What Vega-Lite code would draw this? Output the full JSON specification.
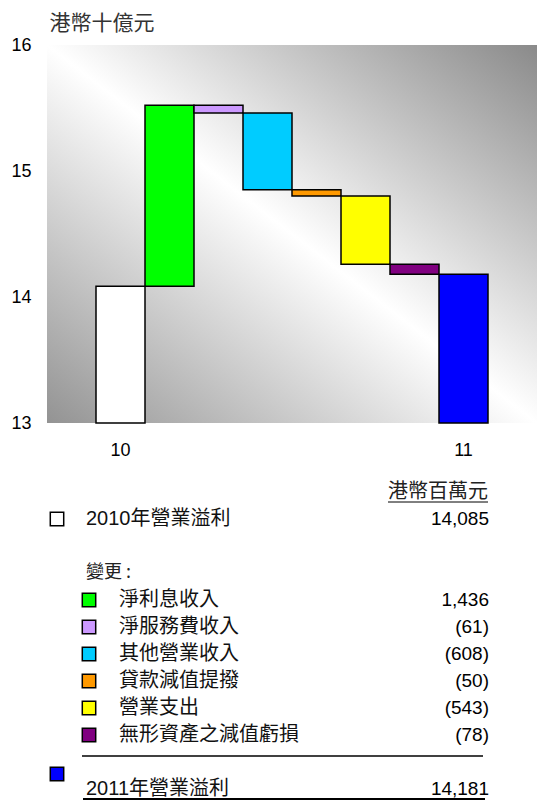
{
  "$schema": "https://vega.github.io/schema/vega-lite/v6.json",
  "width": 490,
  "height": 378,
  "autosize": {"type": "none"},
  "padding": {"left": 47, "top": 45, "right": 1, "bottom": 378},
  "background": "white",
  "datasets": {
    "items": [
      {"key": "y2010", "label": "2010年營業溢利", "value": 14085, "start": 0, "end": 14.085, "level": 0},
      {"key": "c1", "label": "淨利息收入", "value": 1436, "start": 14.085, "end": 15.521, "level": 1},
      {"key": "c2", "label": "淨服務費收入", "value": -61, "start": 15.521, "end": 15.46, "level": 1},
      {"key": "c3", "label": "其他營業收入", "value": -608, "start": 15.46, "end": 14.852, "level": 1},
      {"key": "c4", "label": "貸款減值提撥", "value": -50, "start": 14.852, "end": 14.802, "level": 1},
      {"key": "c5", "label": "營業支出", "value": -543, "start": 14.802, "end": 14.259, "level": 1},
      {"key": "c6", "label": "無形資產之減值虧損", "value": -78, "start": 14.259, "end": 14.181, "level": 1},
      {"key": "y2011", "label": "2011年營業溢利", "value": 14181, "start": 0, "end": 14.181, "level": 0}
    ],
    "notes": [
      {"key": "hdr", "text": "港幣百萬元", "level": 1},
      {"key": "chg", "text": "變更 :", "level": 0}
    ]
  },
  "layer": [
    {
      "data": {"name": "items"},
      "mark": {"type": "bar", "stroke": "#000000", "strokeWidth": 1.5},
      "encoding": {
        "x": {
          "field": "key", "type": "nominal", "sort": null,
          "scale": {"paddingInner": 0, "paddingOuter": 1},
          "axis": {
            "title": null, "ticks": false, "domain": false, "labelAngle": 0,
            "labelFontSize": 18, "labelPadding": 18, "labelColor": "#000000",
            "labelFont": "Liberation Sans, Arial, sans-serif",
            "labelExpr": "datum.value == 'y2010' ? '10' : datum.value == 'y2011' ? '11' : ''"
          }
        },
        "y": {
          "field": "end", "type": "quantitative",
          "scale": {"domain": [13, 16], "clamp": true, "nice": false, "zero": false},
          "axis": {
            "values": [13, 14, 15, 16], "format": "d", "grid": false, "ticks": false, "domain": false,
            "labelFontSize": 18, "labelPadding": 16, "labelColor": "#000000",
            "labelFont": "Liberation Sans, Arial, sans-serif",
            "title": "港幣十億元", "titleAngle": 0, "titleX": 2, "titleY": -22,
            "titleAlign": "left", "titleBaseline": "middle", "titleFontSize": 21,
            "titleFontWeight": "normal", "titleColor": "#333333",
            "titleFont": "Noto Sans CJK TC, sans-serif"
          }
        },
        "y2": {"field": "start"},
        "fill": {
          "field": "key", "type": "nominal", "legend": null,
          "scale": {
            "domain": ["y2010", "c1", "c2", "c3", "c4", "c5", "c6", "y2011"],
            "range": ["#ffffff", "#00ff00", "#cc99ff", "#00ccff", "#ff9900", "#ffff00", "#800080", "#0000ff"]
          }
        }
      }
    },
    {
      "data": {"name": "items"},
      "transform": [{"filter": "datum.key != 'y2011'"}],
      "mark": {"type": "point", "shape": "square", "size": 180, "filled": true, "stroke": "#000000", "strokeWidth": 1.5, "opacity": 1},
      "encoding": {
        "x": {"field": "level", "type": "quantitative", "scale": {"domain": [0, 1], "range": [10, 42]}, "axis": null},
        "y": {"field": "key", "type": "nominal", "axis": null, "scale": {"type": "point", "padding": 0, "domain": ["hdr", "y2010", "gap1", "chg", "c1", "c2", "c3", "c4", "c5", "c6", "gap2", "y2011"], "range": [447, 744]}},
        "fill": {"field": "key", "type": "nominal", "legend": null}
      }
    },
    {
      "data": {"name": "items"},
      "transform": [{"filter": "datum.key == 'y2011'"}],
      "mark": {"type": "point", "shape": "square", "size": 180, "filled": true, "stroke": "#000000", "strokeWidth": 1.5, "opacity": 1, "yOffset": -15},
      "encoding": {
        "x": {"field": "level", "type": "quantitative", "scale": {"domain": [0, 1], "range": [10, 42]}, "axis": null},
        "y": {"field": "key", "type": "nominal", "axis": null, "scale": {"type": "point", "padding": 0, "domain": ["hdr", "y2010", "gap1", "chg", "c1", "c2", "c3", "c4", "c5", "c6", "gap2", "y2011"], "range": [447, 744]}},
        "fill": {"field": "key", "type": "nominal", "legend": null}
      }
    },
    {
      "data": {"name": "items"},
      "mark": {"type": "text", "align": "left", "baseline": "middle", "fontSize": 20, "font": "Liberation Sans, Noto Sans CJK TC, sans-serif", "color": "#111111"},
      "encoding": {
        "x": {"field": "level", "type": "quantitative", "scale": {"domain": [0, 1], "range": [39, 72]}, "axis": null},
        "y": {"field": "key", "type": "nominal", "axis": null, "scale": {"type": "point", "padding": 0, "domain": ["hdr", "y2010", "gap1", "chg", "c1", "c2", "c3", "c4", "c5", "c6", "gap2", "y2011"], "range": [447, 744]}},
        "text": {"field": "label"}
      }
    },
    {
      "data": {"name": "items"},
      "transform": [{"calculate": "datum.value < 0 ? '(' + format(-datum.value, ',') + ')' : format(datum.value, ',') + ' '", "as": "disp"}],
      "mark": {"type": "text", "align": "right", "baseline": "middle", "fontSize": 19, "font": "Liberation Sans, Arial, sans-serif", "color": "#000000"},
      "encoding": {
        "x": {"field": "level", "type": "quantitative", "scale": {"domain": [0, 1], "range": [442, 442]}, "axis": null},
        "y": {"field": "key", "type": "nominal", "axis": null, "scale": {"type": "point", "padding": 0, "domain": ["hdr", "y2010", "gap1", "chg", "c1", "c2", "c3", "c4", "c5", "c6", "gap2", "y2011"], "range": [447, 744]}},
        "text": {"field": "disp"}
      }
    },
    {
      "data": {"name": "notes"},
      "transform": [{"filter": "datum.key == 'chg'"}],
      "mark": {"type": "text", "align": "left", "baseline": "middle", "fontSize": 18, "font": "Noto Sans CJK TC, sans-serif", "color": "#222222"},
      "encoding": {
        "x": {"field": "level", "type": "quantitative", "scale": {"domain": [0, 1], "range": [39, 72]}, "axis": null},
        "y": {"field": "key", "type": "nominal", "axis": null, "scale": {"type": "point", "padding": 0, "domain": ["hdr", "y2010", "gap1", "chg", "c1", "c2", "c3", "c4", "c5", "c6", "gap2", "y2011"], "range": [447, 744]}},
        "text": {"field": "text"}
      }
    },
    {
      "data": {"name": "notes"},
      "transform": [{"filter": "datum.key == 'hdr'"}],
      "mark": {"type": "text", "align": "right", "baseline": "middle", "fontSize": 20, "font": "Noto Sans CJK TC, sans-serif", "color": "#222222"},
      "encoding": {
        "x": {"field": "level", "type": "quantitative", "scale": {"domain": [0, 1], "range": [441, 441]}, "axis": null},
        "y": {"field": "key", "type": "nominal", "axis": null, "scale": {"type": "point", "padding": 0, "domain": ["hdr", "y2010", "gap1", "chg", "c1", "c2", "c3", "c4", "c5", "c6", "gap2", "y2011"], "range": [447, 744]}},
        "text": {"field": "text"}
      }
    },
    {
      "data": {"name": "notes"},
      "transform": [{"filter": "datum.key == 'hdr'"}],
      "mark": {"type": "rule", "color": "#000000", "strokeWidth": 1, "yOffset": 10},
      "encoding": {
        "x": {"datum": 0, "type": "quantitative", "scale": {"domain": [0, 1], "range": [341, 441]}, "axis": null},
        "x2": {"datum": 1},
        "y": {"field": "key", "type": "nominal", "axis": null, "scale": {"type": "point", "padding": 0, "domain": ["hdr", "y2010", "gap1", "chg", "c1", "c2", "c3", "c4", "c5", "c6", "gap2", "y2011"], "range": [447, 744]}}
      }
    },
    {
      "data": {"name": "items"},
      "transform": [{"filter": "datum.key == 'c6'"}],
      "mark": {"type": "rule", "color": "#000000", "strokeWidth": 1.5, "yOffset": 21},
      "encoding": {
        "x": {"datum": 0, "type": "quantitative", "scale": {"domain": [0, 1], "range": [35, 436]}, "axis": null},
        "x2": {"datum": 1},
        "y": {"field": "key", "type": "nominal", "axis": null, "scale": {"type": "point", "padding": 0, "domain": ["hdr", "y2010", "gap1", "chg", "c1", "c2", "c3", "c4", "c5", "c6", "gap2", "y2011"], "range": [447, 744]}}
      }
    },
    {
      "data": {"name": "items"},
      "transform": [{"filter": "datum.key == 'y2011'"}],
      "mark": {"type": "rule", "color": "#000000", "strokeWidth": 2, "yOffset": 10},
      "encoding": {
        "x": {"datum": 0, "type": "quantitative", "scale": {"domain": [0, 1], "range": [36, 438]}, "axis": null},
        "x2": {"datum": 1},
        "y": {"field": "key", "type": "nominal", "axis": null, "scale": {"type": "point", "padding": 0, "domain": ["hdr", "y2010", "gap1", "chg", "c1", "c2", "c3", "c4", "c5", "c6", "gap2", "y2011"], "range": [447, 744]}}
      }
    }
  ],
  "resolve": {"scale": {"x": "independent", "y": "independent"}},
  "config": {
    "view": {
      "stroke": null,
      "fill": {
        "gradient": "linear", "x1": 0, "y1": 1, "x2": 1, "y2": 0,
        "stops": [
          {"offset": 0, "color": "#939393"},
          {"offset": 0.5, "color": "#ffffff"},
          {"offset": 1, "color": "#8a8a8a"}
        ]
      }
    }
  }
}
